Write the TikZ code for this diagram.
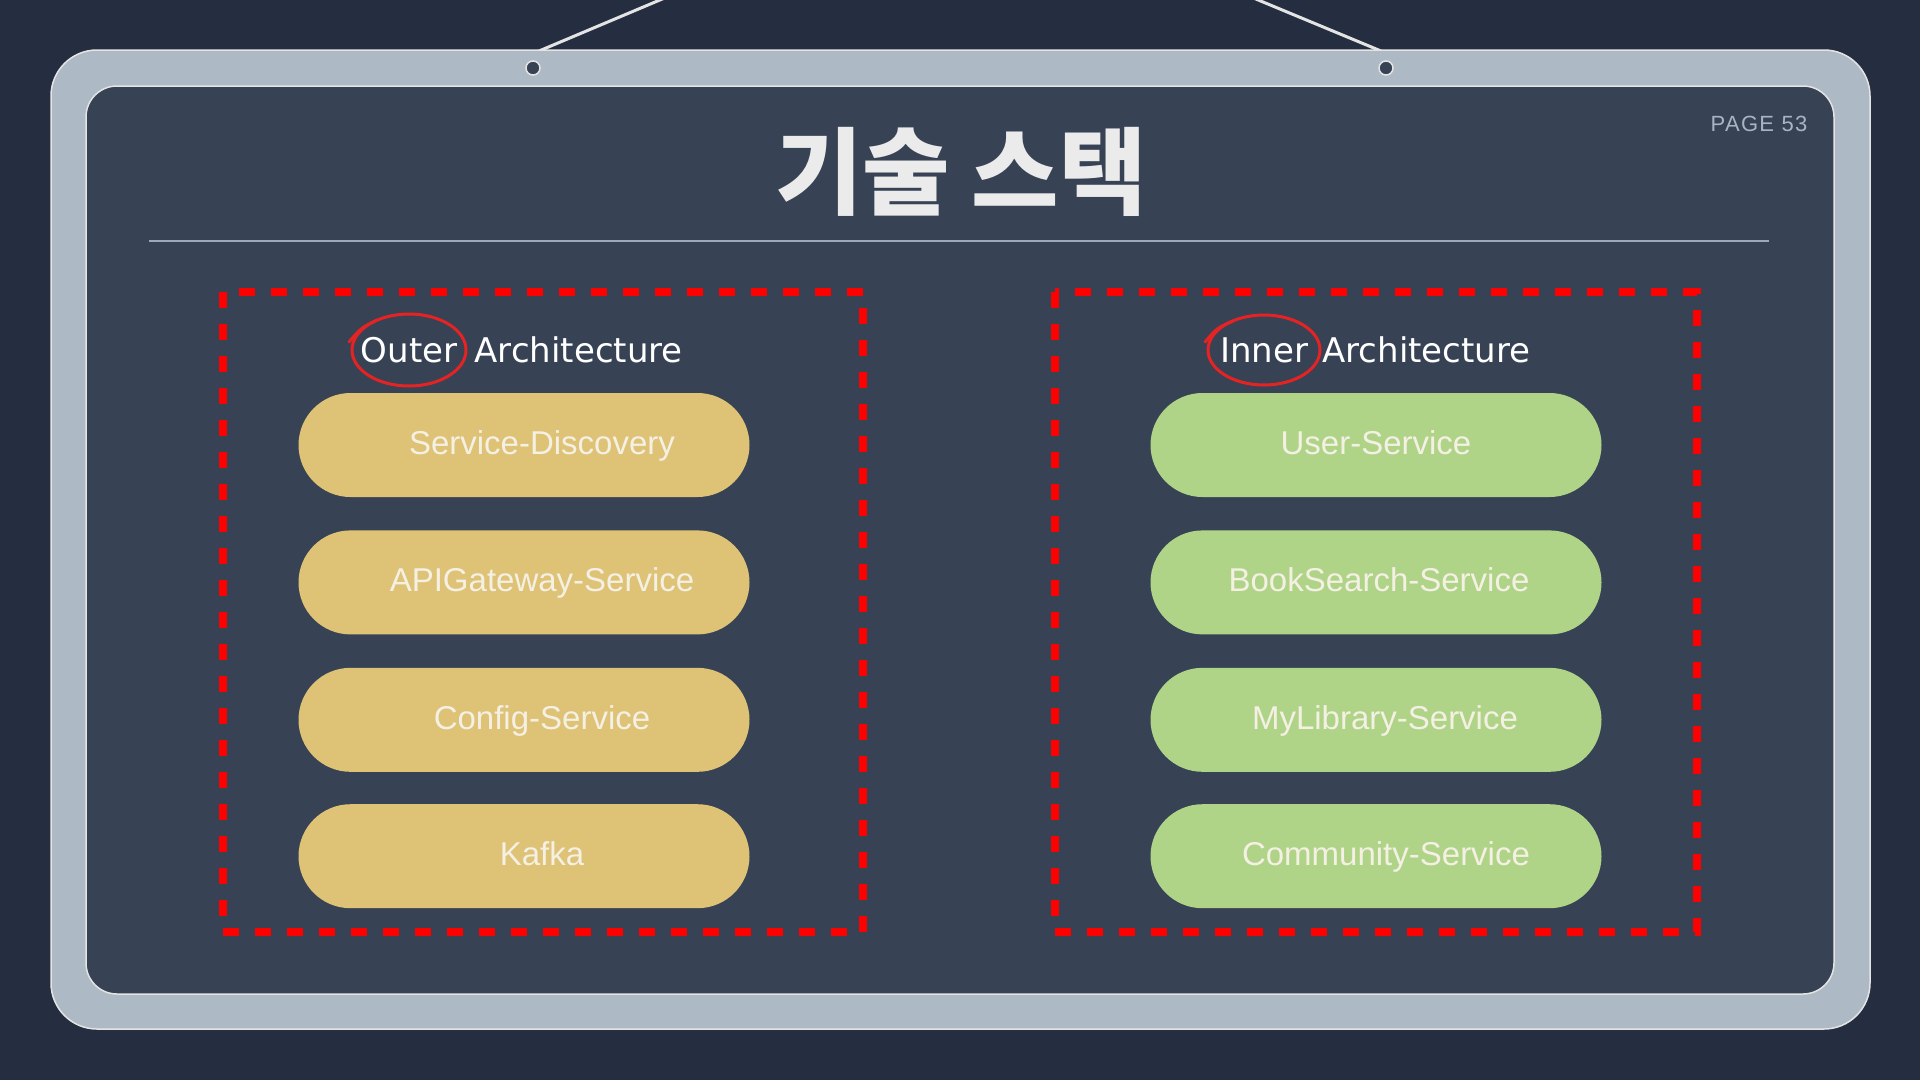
\documentclass[tikz,border=0pt]{standalone}
\usepackage{fontspec}
\setmainfont{Liberation Sans}
\newfontfamily\cjk{Noto Sans CJK KR}[BoldFont={Noto Sans CJK KR Black}]
\newfontfamily\handFont{DejaVu Sans}
\usepackage{tikz}
\usetikzlibrary{positioning}
\definecolor{bgCol}{RGB}{37, 45, 64}
\definecolor{frameCol}{RGB}{173, 186, 198}
\definecolor{panelCol}{RGB}{55, 66, 84}
\definecolor{stringCol}{RGB}{228, 228, 228}
\definecolor{titleCol}{RGB}{235, 235, 235}
\definecolor{pageCol}{RGB}{169, 180, 194}
\definecolor{ruleCol}{RGB}{157, 169, 184}
\definecolor{dashRedCol}{RGB}{255, 0, 0}
\definecolor{markRedCol}{RGB}{230, 35, 35}
\definecolor{pillYellowCol}{RGB}{222, 194, 118}
\definecolor{pillGreenCol}{RGB}{175, 212, 135}
\definecolor{pillTextCol}{RGB}{245, 240, 228}
\tikzset{myFrame/.style={fill=frameCol, draw=stringCol, line width=1.5pt, rounded corners=46pt}}
\tikzset{myPanel/.style={fill=panelCol, draw=stringCol, line width=1.5pt, rounded corners=31pt}}
\tikzset{myString/.style={line width=3pt, color=stringCol}}
\tikzset{myHole/.style={fill=panelCol, draw=stringCol, line width=1.5pt}}
\tikzset{myRule/.style={line width=2pt, color=ruleCol}}
\tikzset{myDashBox/.style={line width=8pt, color=dashRedCol, dash pattern=on 16pt off 16pt}}
\tikzset{myPill/.style={rectangle, rounded corners=52pt, minimum width=451pt, minimum height=104pt, inner sep=0pt, text height=23.6pt, text depth=5pt, text=pillTextCol, font=\fontsize{33}{40}\selectfont}}
\tikzset{myOuterPill/.style={myPill, fill=pillYellowCol}}
\tikzset{myInnerPill/.style={myPill, fill=pillGreenCol}}
\tikzset{myHead/.style={inner sep=0pt, text=white, font=\handFont\fontsize{34}{40}\selectfont}}
\tikzset{myCircleMark/.style={line width=3pt, color=markRedCol, line cap=round}}

\begin{document}
\begin{tikzpicture}[x=1pt,y=-1pt]
	\useasboundingbox[fill=bgCol] (0,0) rectangle (1920,1080);
	%\draw[help lines, step=100] (0,0) grid (1920,1080);
	
	% hanging board
	\coordinate (strLtop) at (667,-3);
	\coordinate (strLend) at (539,51);
	\coordinate (strRtop) at (1251,-3);
	\coordinate (strRend) at (1381,51);
	\draw[myString](strLtop)--(strLend);
	\draw[myString](strRtop)--(strRend);
	\draw[myFrame](51,50) rectangle (1870,1029);
	\draw[myPanel](86,86) rectangle (1834,994);
	\coordinate (holeL) at (533,68);
	\coordinate (holeR) at (1386,68);
	\draw[myHole](holeL) circle [radius=7pt];
	\draw[myHole](holeR) circle [radius=7pt];
	
	\node[text=titleCol, font=\cjk\bfseries\fontsize{95}{100}\selectfont] (title) at (961,172) {기술 스택};
	\node[text=pageCol, font=\fontsize{22}{26}\selectfont\addfontfeatures{LetterSpace=6}] (page) at (1759,124) {PAGE 53};
	\draw[myRule](149,241)--(1769,241);
	
	\draw[myDashBox](223,292) rectangle (863,932);
	\draw[myDashBox](1055,292) rectangle (1697,932);
	
	\node[myHead] (outerWord) at (409,350) {Outer};
	\node[myHead, base right=17pt of outerWord] (outerArch) {Architecture};
	\draw[myCircleMark](outerWord) ellipse [x radius=57, y radius=36];
	\draw[myCircleMark]([shift={(-60,-8)}]outerWord.center) .. controls ([shift={(-48,-22)}]outerWord.center) .. ([shift={(-32,-30)}]outerWord.center);
	
	\node[myHead] (innerWord) at (1264,350) {Inner};
	\node[myHead, base right=14pt of innerWord] (innerArch) {Architecture};
	\draw[myCircleMark](innerWord) ellipse [x radius=56, y radius=35];
	\draw[myCircleMark]([shift={(-59,-8)}]innerWord.center) .. controls ([shift={(-47,-22)}]innerWord.center) .. ([shift={(-31,-29)}]innerWord.center);
	
	\node[myOuterPill] (outerSD) at (524,445) {\hspace*{36pt}Service-Discovery};
	\node[myOuterPill, below=33pt of outerSD] (outerGW) {\hspace*{36pt}APIGateway-Service};
	\node[myOuterPill, below=33pt of outerGW] (outerCfg) {\hspace*{36pt}Config-Service};
	\node[myOuterPill, below=32pt of outerCfg] (outerKafka) {\hspace*{36pt}Kafka};
	
	\node[myInnerPill] (innerUser) at (1376,445) {User-Service};
	\node[myInnerPill, below=33pt of innerUser] (innerBook) {\hspace*{6pt}BookSearch-Service};
	\node[myInnerPill, below=33pt of innerBook] (innerLib) {\hspace*{18pt}MyLibrary-Service};
	\node[myInnerPill, below=32pt of innerLib] (innerComm) {\hspace*{20pt}Community-Service};

\end{tikzpicture}
\end{document}
